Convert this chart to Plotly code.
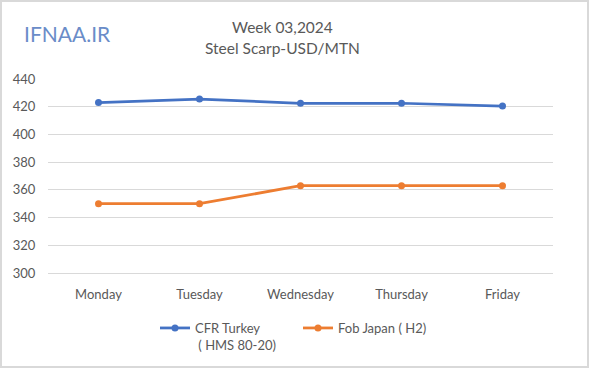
import plotly.graph_objects as go

days = ["Monday", "Tuesday", "Wednesday", "Thursday", "Friday"]
cfr_turkey = [423, 425.5, 422.5, 422.5, 420.5]
fob_japan = [350, 350, 363, 363, 363]
series_names = ["CFR Turkey<br> ( HMS 80-20)", "Fob Japan ( H2)"]
title_lines = ["Week 03,2024", "Steel Scarp-USD/MTN"]
logo_text = "IFNAA.IR"

FONT = "Lato"
GREY = "#595959"

L, R, T, B = 48, 47, 79, 96
W, H = 600, 369
pw, ph = W - L - R, H - T - B

def px(x):
    return (x - L) / pw

def py(y):
    return (H - B - y) / ph

fig = go.Figure()
fig.add_trace(go.Scatter(x=days, y=cfr_turkey, name=series_names[0], mode="lines+markers",
                         line=dict(color="#4472c4", width=2.75), marker=dict(size=7, color="#4472c4")))
fig.add_trace(go.Scatter(x=days, y=fob_japan, name=series_names[1], mode="lines+markers",
                         line=dict(color="#ed7d31", width=2.75), marker=dict(size=7, color="#ed7d31")))

fig.update_layout(
    width=W, height=H,
    margin=dict(l=L, r=R, t=T, b=B, autoexpand=False),
    paper_bgcolor="white", plot_bgcolor="white",
    font=dict(family=FONT, color=GREY, size=13),
    showlegend=True,
    legend=dict(orientation="h", x=155 / W, y=(H - 313) / H, xref="container", yref="container",
                xanchor="left", yanchor="top",
                font=dict(size=13, color=GREY, family=FONT), valign="top",
                itemwidth=30, entrywidth=98, entrywidthmode="pixels",
                bgcolor="rgba(0,0,0,0)", tracegroupgap=0),
    xaxis=dict(type="category", range=[-0.5, 4.5], showgrid=False, zeroline=False,
               showline=True, linecolor="#d9d9d9", linewidth=1,
               ticks="outside", ticklen=9, tickcolor="rgba(0,0,0,0)",
               tickfont=dict(size=13, color=GREY)),
    yaxis=dict(range=[300, 440], dtick=20, showgrid=True, gridcolor="#d9d9d9", gridwidth=1,
               zeroline=False, showline=False, ticks="outside", ticklen=9,
               tickcolor="rgba(0,0,0,0)", tickfont=dict(size=13, color=GREY)),
)

fig.add_annotation(text=title_lines[0], x=px(282), y=py(27), xref="paper", yref="paper",
                   xanchor="center", yanchor="middle", showarrow=False,
                   font=dict(size=15.5, color=GREY, family=FONT))
fig.add_annotation(text=title_lines[1], x=px(282), y=py(48), xref="paper", yref="paper",
                   xanchor="center", yanchor="middle", showarrow=False,
                   font=dict(size=15.5, color=GREY, family=FONT))
fig.add_annotation(text=logo_text, x=px(67), y=py(34), xref="paper", yref="paper",
                   xanchor="center", yanchor="middle", showarrow=False,
                   font=dict(size=21, color="#6a8cc8", family=FONT))

fig.add_shape(type="rect", xref="paper", yref="paper",
              x0=px(1), x1=px(588), y0=py(367), y1=py(1),
              line=dict(color="#d9d9d9", width=2), fillcolor="rgba(0,0,0,0)", layer="below")

fig.write_html("out.html", config={"displayModeBar": False},
               post_script="document.body.style.margin='0';document.body.style.padding='0';")
